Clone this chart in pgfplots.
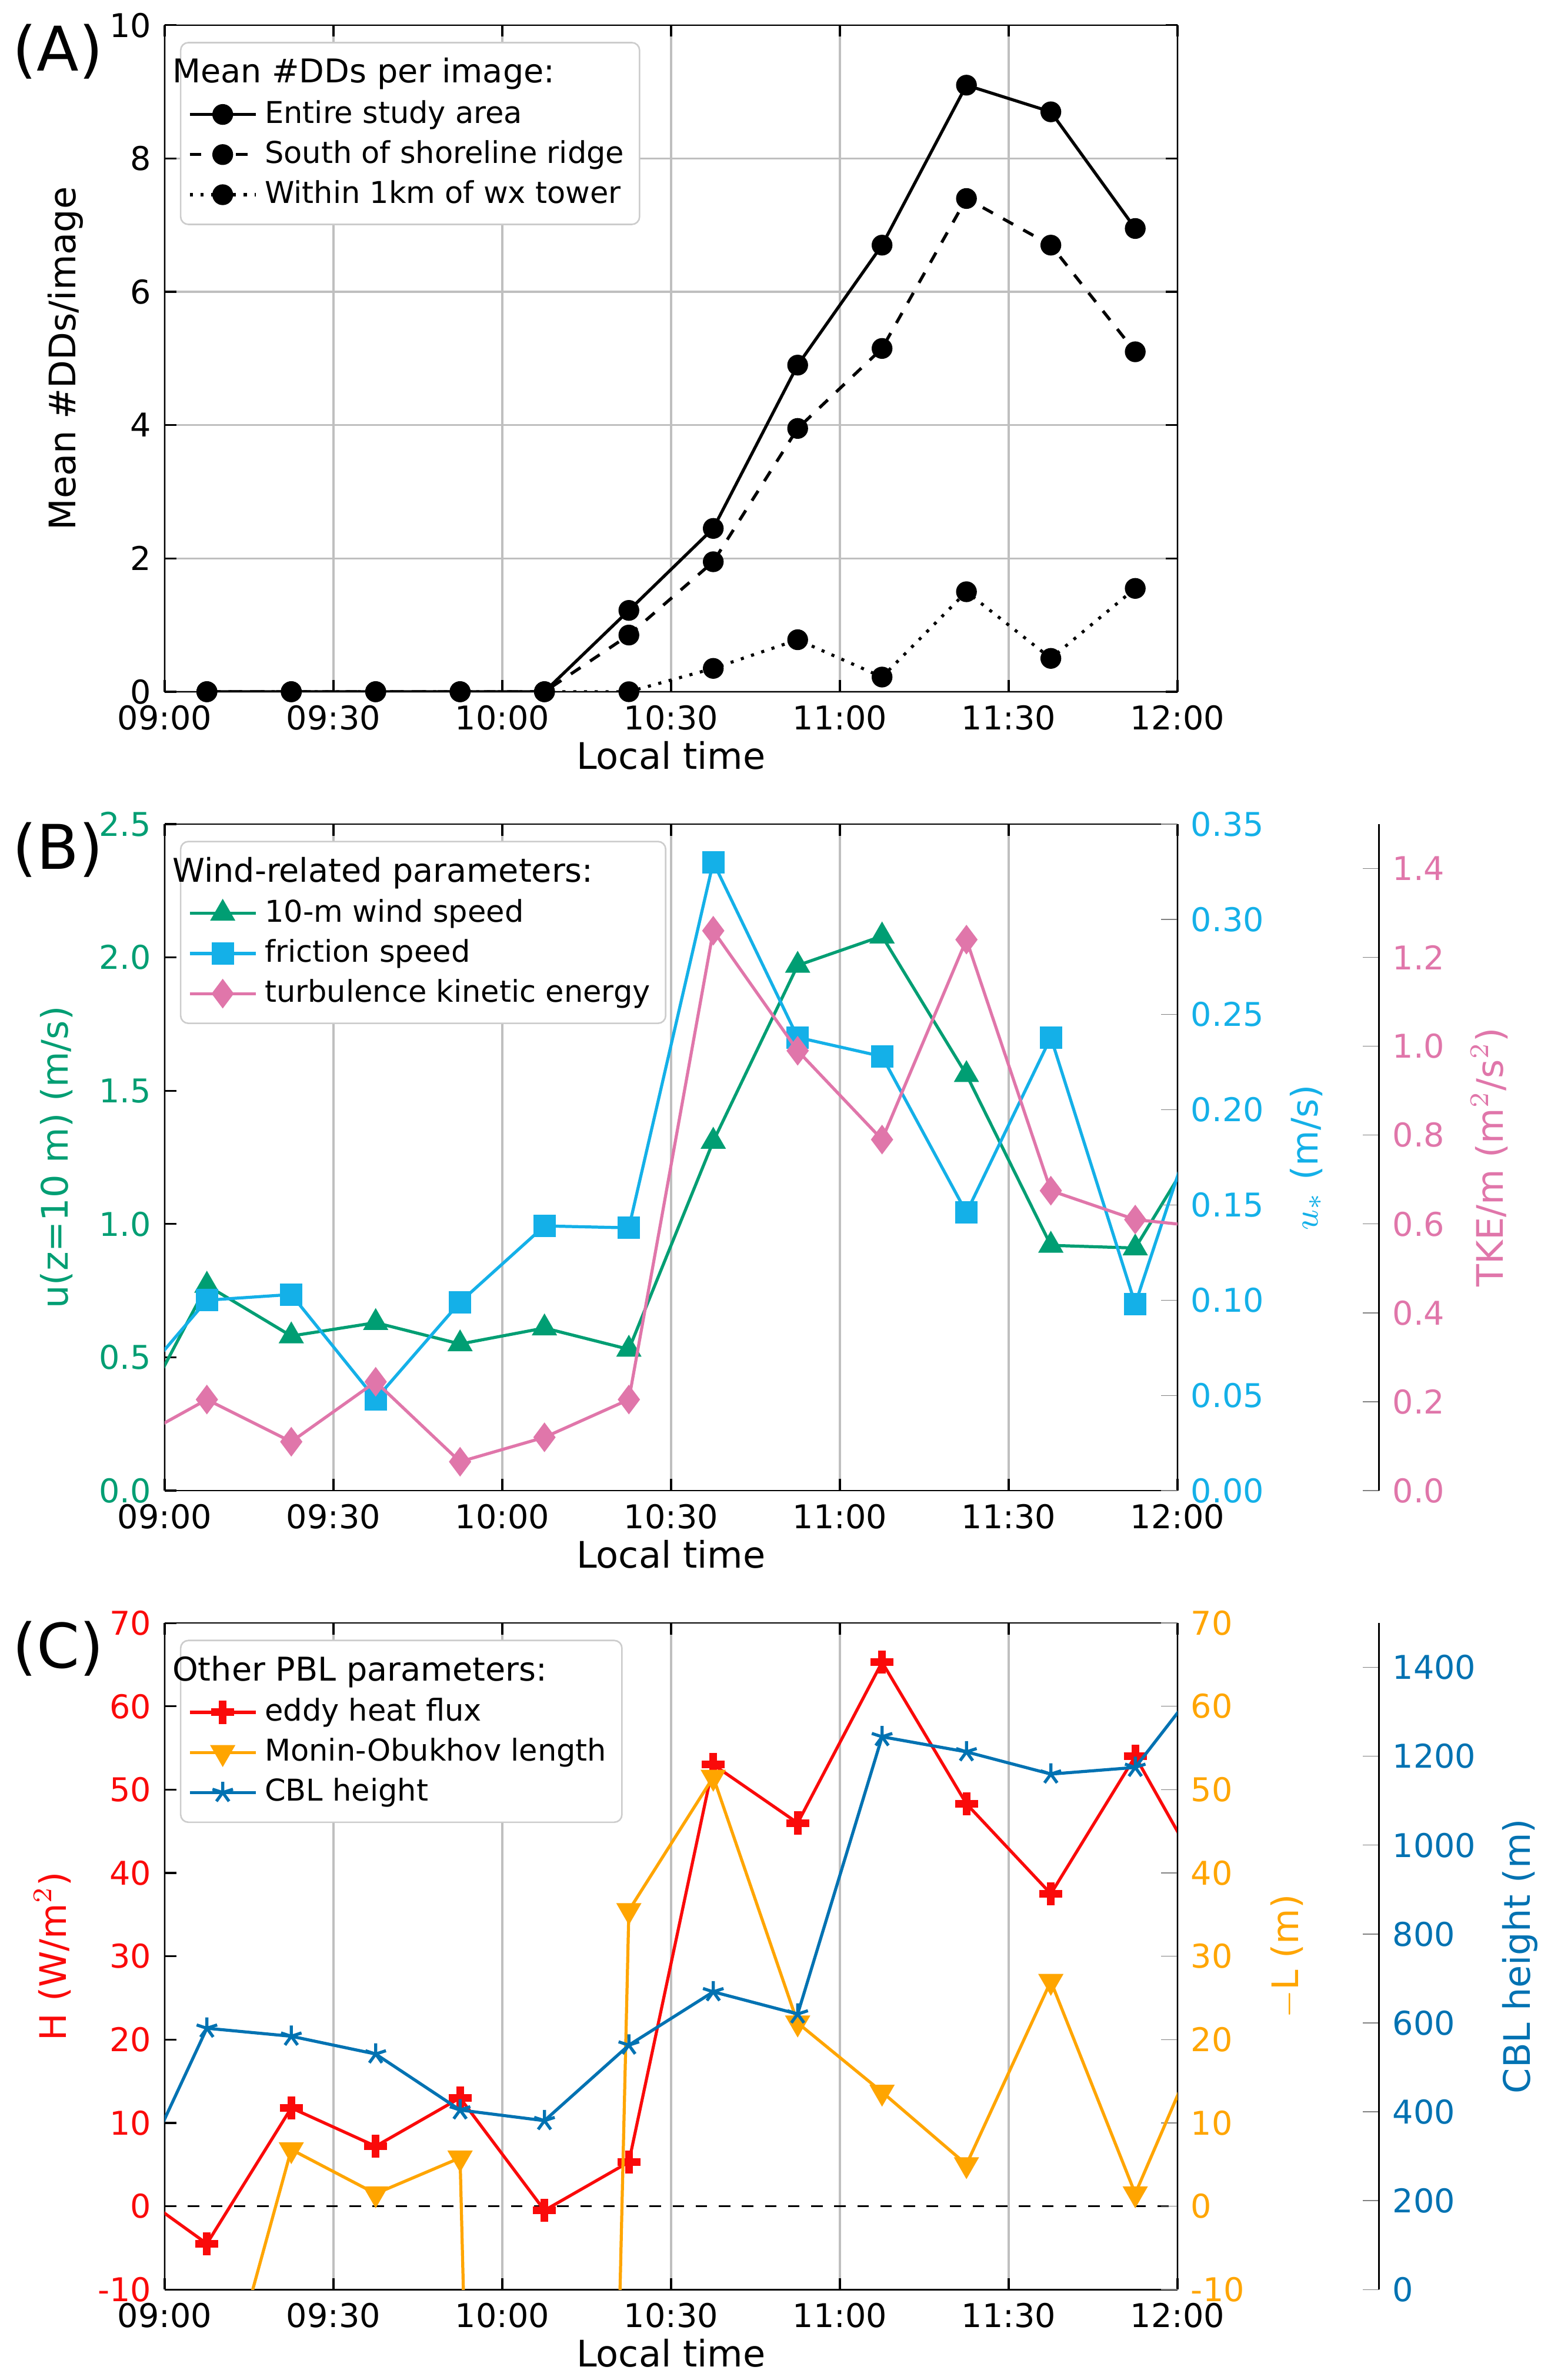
\documentclass[border=0pt]{standalone}
\usepackage{pgfplots}
\pgfplotsset{compat=1.18}
\usepackage{fontspec}
\setmainfont{DejaVu Sans}
\definecolor{cg}{RGB}{0,158,115}
\definecolor{cb}{RGB}{20,176,232}
\definecolor{cp}{RGB}{224,118,170}
\definecolor{cr}{RGB}{250,10,10}
\definecolor{co}{RGB}{255,165,0}
\definecolor{cbl}{RGB}{0,114,178}
\pgfplotsset{
 base/.style={width=263.2pt,height=173.2pt,scale only axis,
  xmin=0,xmax=180,xtick={0,30,...,180},
  xticklabels={09:00,09:30,10:00,10:30,11:00,11:30,12:00},
  tick align=inside,tick style={black,line width=0.5pt},
  major tick length=3pt,
  /pgf/number format/assume math mode=true,
  tick label style={font=\fontsize{8.5}{10}\selectfont},
  label style={font=\fontsize{9.5}{11}\selectfont},
  xlabel={Local time},xlabel style={yshift=4pt},
  xmajorgrids,grid style={gray!50,line width=0.5pt},
  legend style={font=\fontsize{7.8}{9}\selectfont,at={(0.015,0.975)},anchor=north west,
   draw=gray!40,rounded corners=2pt,row sep=-1pt,inner sep=2pt},
  legend cell align=left,
  clip=true},
 ov/.style={width=263.2pt,height=173.2pt,scale only axis,xmin=0,xmax=180,
  hide x axis,axis y line*=right,tick align=inside,
  /pgf/number format/assume math mode=true,
  tick label style={font=\fontsize{8.5}{10}\selectfont},
  label style={font=\fontsize{9.5}{11}\selectfont}},
}
\newcommand{\ltitle}[1]{\hspace*{-24pt}\fontsize{8.5}{10}\selectfont #1}
\begin{document}
\begin{tikzpicture}
% Panel A
\begin{axis}[base,at={(0,0)},ymin=0,ymax=10,ytick={0,2,...,10},ymajorgrids,
 ylabel={Mean \#DDs/image}]
\addlegendimage{empty legend}\addlegendentry{\ltitle{Mean \#DDs per image:}}
\addplot[black,thick,mark=*,mark size=2.3pt] coordinates {(7.5,0)(22.5,0)(37.5,0)(52.5,0)(67.5,0)(82.5,1.22)(97.5,2.45)(112.5,4.9)(127.5,6.7)(142.5,9.1)(157.5,8.7)(172.5,6.95)};
\addlegendentry{Entire study area}
\addplot[black,thick,dashed,mark=*,mark size=2.3pt,mark options={solid}] coordinates {(7.5,0)(22.5,0)(37.5,0)(52.5,0)(67.5,0)(82.5,0.85)(97.5,1.95)(112.5,3.95)(127.5,5.15)(142.5,7.4)(157.5,6.7)(172.5,5.1)};
\addlegendentry{South of shoreline ridge}
\addplot[black,thick,dotted,mark=*,mark size=2.3pt,mark options={solid}] coordinates {(7.5,0)(22.5,0)(37.5,0)(52.5,0)(67.5,0)(82.5,0)(97.5,0.35)(112.5,0.78)(127.5,0.22)(142.5,1.5)(157.5,0.5)(172.5,1.55)};
\addlegendentry{Within 1km of wx tower}
\end{axis}
\node[font=\fontsize{16}{18}\selectfont,anchor=north west] at (-43pt,177pt) {(A)};
% Panel B
\begin{axis}[base,at={(0,-207.6pt)},ymin=0,ymax=2.5,ytick={0,0.5,...,2.5},
 yticklabel style={cg},ylabel style={cg},ylabel={u(z=10 m) (m/s)},
 yticklabel style={/pgf/number format/.cd,fixed,fixed zerofill,precision=1},axis y line*=left]
\addlegendimage{empty legend}\addlegendentry{\ltitle{Wind-related parameters:}}
\addlegendimage{cg,thick,mark=triangle*,mark size=3pt}\addlegendentry{10-m wind speed}
\addlegendimage{cb,thick,mark=square*,mark size=2.5pt}\addlegendentry{friction speed}
\addlegendimage{cp,thick,mark=diamond*,mark size=3.2pt}\addlegendentry{turbulence kinetic energy}
\addplot[cg,thick,mark=triangle*,mark size=3pt] coordinates {(-7.5,0.17)(7.5,0.77)(22.5,0.58)(37.5,0.63)(52.5,0.55)(67.5,0.61)(82.5,0.53)(97.5,1.31)(112.5,1.97)(127.5,2.08)(142.5,1.56)(157.5,0.92)(172.5,0.91)(187.5,1.43)};
\end{axis}
\begin{axis}[ov,at={(0,-207.6pt)},ymin=0,ymax=0.35,ytick={0,0.05,...,0.35},
 yticklabel style={cb,/pgf/number format/.cd,fixed,fixed zerofill,precision=2},
 ylabel style={cb},ylabel={$u_*$ (m/s)},clip=true]
\addplot[cb,thick,mark=square*,mark size=2.5pt] coordinates {(-7.5,0.048)(7.5,0.10)(22.5,0.103)(37.5,0.048)(52.5,0.099)(67.5,0.139)(82.5,0.138)(97.5,0.33)(112.5,0.238)(127.5,0.228)(142.5,0.146)(157.5,0.238)(172.5,0.098)(187.5,0.232)};
\end{axis}
\begin{axis}[ov,at={(0,-207.6pt)},ymin=0,ymax=1.5,hide y axis,clip=true]
\addplot[cp,thick,mark=diamond*,mark size=3.2pt] coordinates {(-7.5,0.10)(7.5,0.205)(22.5,0.11)(37.5,0.245)(52.5,0.065)(67.5,0.12)(82.5,0.205)(97.5,1.26)(112.5,0.99)(127.5,0.79)(142.5,1.24)(157.5,0.675)(172.5,0.61)(187.5,0.59)};
\end{axis}
\begin{axis}[width=1pt,height=173.2pt,scale only axis,at={(314.6pt,-207.6pt)},xmin=0,xmax=1,
 ymin=0,ymax=1.5,ytick={0,0.2,...,1.4},axis x line=none,axis y line*=right,tick align=inside,
 /pgf/number format/assume math mode=true,
 tick label style={font=\fontsize{8.5}{10}\selectfont},
 yticklabel style={cp,/pgf/number format/.cd,fixed,fixed zerofill,precision=1},
 ylabel style={cp,font=\fontsize{9.5}{11}\selectfont},ylabel={TKE/m (m$^2$/s$^2$)}]
\addplot[draw=none] coordinates {(0,0)};
\end{axis}
\node[font=\fontsize{16}{18}\selectfont,anchor=north west] at (-43pt,-30.4pt) {(B)};
% Panel C
\begin{axis}[base,at={(0,-415.2pt)},ymin=-10,ymax=70,ytick={-10,0,...,70},
 yticklabel style={cr},ylabel style={cr},ylabel={H (W/m$^2$)},axis y line*=left]
\addlegendimage{empty legend}\addlegendentry{\ltitle{Other PBL parameters:}}
\addlegendimage{cr,thick,mark=+,mark size=3pt,mark options={line width=2pt}}\addlegendentry{eddy heat flux}
\addlegendimage{co,thick,mark=triangle*,mark size=3pt,mark options={rotate=180}}\addlegendentry{Monin-Obukhov length}
\addlegendimage{cbl,thick,mark=star,mark size=2.8pt}\addlegendentry{CBL height}
\draw[black,dashed,thin] (axis cs:0,0) -- (axis cs:180,0);
\addplot[cr,thick,mark=+,mark size=3pt,mark options={line width=2pt}] coordinates {(-7.5,2.8)(7.5,-4.5)(22.5,11.8)(37.5,7.2)(52.5,13)(67.5,-0.5)(82.5,5.3)(97.5,53)(112.5,46)(127.5,65.3)(142.5,48.3)(157.5,37.5)(172.5,54)(187.5,36)};
\end{axis}
\begin{axis}[ov,at={(0,-415.2pt)},ymin=-10,ymax=70,ytick={-10,0,...,70},
 yticklabel style={co},ylabel style={co},ylabel={$-$L (m)},clip=true]
\addplot[co,thick,mark=triangle*,mark size=3pt,mark options={rotate=180}] coordinates {(-7.5,0)(7.5,-30)(22.5,6.8)(37.5,1.5)(52.5,5.8)(67.5,-400)(82.5,35.5)(97.5,51.5)(112.5,22)(127.5,13.7)(142.5,5)(157.5,27)(172.5,1.5)(187.5,25)};
\end{axis}
\begin{axis}[ov,at={(0,-415.2pt)},ymin=0,ymax=1500,hide y axis,clip=true]
\addplot[cbl,thick,mark=star,mark size=2.8pt] coordinates {(-7.5,180)(7.5,588)(22.5,570)(37.5,530)(52.5,404)(67.5,380)(82.5,550)(97.5,670)(112.5,620)(127.5,1244)(142.5,1210)(157.5,1160)(172.5,1175)(187.5,1420)};
\end{axis}
\begin{axis}[width=1pt,height=173.2pt,scale only axis,at={(314.6pt,-415.2pt)},xmin=0,xmax=1,
 ymin=0,ymax=1500,ytick={0,200,...,1400},axis x line=none,axis y line*=right,tick align=inside,
 /pgf/number format/assume math mode=true,/pgf/number format/1000 sep={},
 tick label style={font=\fontsize{8.5}{10}\selectfont},
 yticklabel style={cbl},
 ylabel style={cbl,font=\fontsize{9.5}{11}\selectfont},ylabel={CBL height (m)}]
\addplot[draw=none] coordinates {(0,0)};
\end{axis}
\node[font=\fontsize{16}{18}\selectfont,anchor=north west] at (-43pt,-238pt) {(C)};
\end{tikzpicture}
\end{document}
